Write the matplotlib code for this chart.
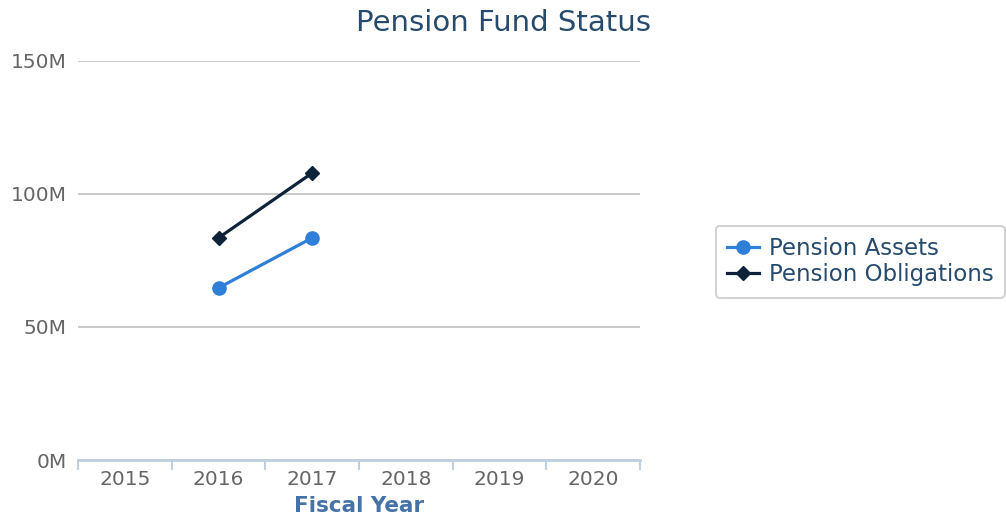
import numpy as np
import matplotlib.pyplot as plt

plt.rcParams['font.family'] = ['DejaVu Sans']

years = ['2015', '2016', '2017', '2018', '2019', '2020']
assets = [np.nan, 64.7, 83.5, np.nan, np.nan, np.nan]
obligations = [np.nan, 83.5, 107.9, np.nan, np.nan, np.nan]
yticks = [0, 50, 100, 150]

fig = plt.figure(figsize=(10.06, 5.2), dpi=100)
ax = fig.add_axes([78 / 1006, 60 / 520, 562 / 1006, 399 / 520])

x = np.arange(len(years))
ax.plot(x, assets, color='#2f7ed8', lw=2.3, marker='o', ms=9.5, label='Pension Assets')
ax.plot(x, obligations, color='#0d233a', lw=2.3, marker='D', ms=7, label='Pension Obligations')

ax.set_xlim(-0.5, len(years) - 0.5)
ax.set_ylim(0, 150)
ax.set_yticks(yticks)
ax.set_yticklabels([f'{v}M' for v in yticks])
ax.set_xticks(x)
ax.set_xticklabels(years)
ax.set_xticks(np.arange(-0.5, len(years)), minor=True)

for s in ['left', 'right', 'top']:
    ax.spines[s].set_visible(False)
ax.spines['bottom'].set_color('#c0d0e0')
ax.spines['bottom'].set_linewidth(2)
ax.grid(axis='y', color='#c0c0c0', lw=1.2)
ax.set_axisbelow(True)

ax.tick_params(axis='y', length=0, labelsize=14.5, labelcolor='#666666', pad=8)
ax.tick_params(axis='x', which='major', length=0, labelsize=14.5, labelcolor='#666666', pad=7)
ax.tick_params(axis='x', which='minor', length=7, width=1.5, color='#c0d0e0')

ax.set_xlabel('Fiscal Year', fontsize=15.5, fontweight='bold', color='#4572a7', labelpad=5)
fig.suptitle('Pension Fund Status', fontsize=21, color='#274b6d', y=0.982)

leg = ax.legend(loc='center left', bbox_to_anchor=(1.135, 0.497), fontsize=16.5, frameon=True,
                fancybox=True, edgecolor='#c8c8c8', handlelength=1.4, handletextpad=0.4,
                borderpad=0.5, borderaxespad=0, labelspacing=0.12)
leg.get_frame().set_linewidth(1.5)
for t in leg.get_texts():
    t.set_color('#274b6d')

fig.savefig('out.png', dpi=100)
